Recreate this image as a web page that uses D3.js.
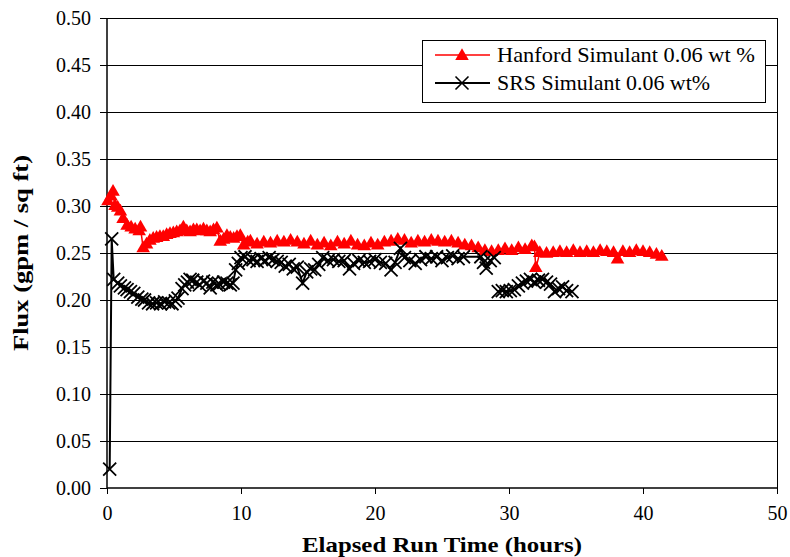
<!DOCTYPE html>
<html>
<head>
<meta charset="utf-8">
<script src="https://cdn.jsdelivr.net/npm/d3@7"></script>
<style>
  body { margin: 0; background: #fff; }
  svg text { font-family: 'Liberation Serif', 'Times New Roman', serif; fill: #000; }
</style>
</head>
<body>
<div id="chart"></div>
<script>
  'use strict';

  var seriesNames = ['Hanford Simulant 0.06 wt %', 'SRS Simulant 0.06 wt%'];

  var hanfordHours = [0.07, 0.3, 0.45, 0.6, 0.8, 1.0, 1.2, 1.5, 1.8, 2.1, 2.4, 2.5, 2.7, 2.95, 3.2, 3.45,
    3.7, 3.95, 4.2, 4.45, 4.7, 4.95, 5.2, 5.45, 5.7, 5.95, 6.2, 6.45, 6.7, 6.95, 7.2, 7.45, 7.7, 7.95,
    8.2, 8.45, 8.7, 8.95, 9.2, 9.45, 9.7, 9.95, 10.2, 10.5, 10.7, 11.2, 11.7, 12.2, 12.7, 13.2, 13.7,
    14.2, 14.7, 15.2, 15.7, 16.2, 16.7, 17.2, 17.7, 18.2, 18.7, 19.2, 19.7, 20.2, 20.7, 21.2, 21.7,
    22.2, 22.7, 23.2, 23.7, 24.2, 24.7, 25.2, 25.7, 26.2, 26.7, 27.2, 27.7, 28.2, 28.7, 29.2, 29.7,
    30.2, 30.7, 31.2, 31.7, 31.9, 32.0, 32.3, 32.8, 33.3, 33.8, 34.3, 34.8, 35.3, 35.8, 36.3, 36.8,
    37.3, 37.8, 38.1, 38.5, 39.0, 39.5, 40.0, 40.5, 41.0, 41.4];

  var hanfordFlux = [0.305, 0.310, 0.315, 0.300, 0.298, 0.294, 0.286, 0.279, 0.277, 0.275, 0.273, 0.277,
    0.255, 0.259, 0.263, 0.265, 0.266, 0.267, 0.267, 0.269, 0.270, 0.271, 0.272, 0.273, 0.277, 0.273,
    0.272, 0.274, 0.274, 0.273, 0.275, 0.273, 0.272, 0.274, 0.276, 0.262, 0.264, 0.268, 0.266, 0.265,
    0.267, 0.268, 0.258, 0.261, 0.262, 0.259, 0.261, 0.260, 0.262, 0.261, 0.263, 0.261, 0.259, 0.262,
    0.258, 0.260, 0.257, 0.261, 0.259, 0.262, 0.258, 0.257, 0.260, 0.258, 0.261, 0.262, 0.264, 0.263,
    0.260, 0.262, 0.261, 0.263, 0.262, 0.261, 0.262, 0.260, 0.258, 0.257, 0.255, 0.252, 0.251, 0.252,
    0.254, 0.252, 0.255, 0.253, 0.257, 0.256, 0.234, 0.250, 0.249, 0.250, 0.251, 0.250, 0.252, 0.250,
    0.251, 0.250, 0.252, 0.251, 0.250, 0.243, 0.251, 0.250, 0.252, 0.251, 0.250, 0.248, 0.246];

  var srsHours = [0.2, 0.35, 0.5, 0.8, 1.0, 1.3, 1.5, 1.75, 2.0, 2.3, 2.6, 2.8, 3.1, 3.4, 3.7, 4.0, 4.3,
    4.6, 4.85, 5.1, 5.3, 5.6, 5.8, 6.0, 6.2, 6.4, 6.7, 6.9, 7.2, 7.45, 7.7, 7.9, 8.2, 8.4, 8.7, 8.95,
    9.2, 9.4, 9.6, 9.8, 10.0, 10.3, 10.6, 10.9, 11.2, 11.5, 11.8, 12.1, 12.4, 12.7, 13.0, 13.3, 13.6,
    13.9, 14.2, 14.6, 14.9, 15.2, 15.5, 15.8, 16.1, 16.5, 16.9, 17.3, 17.7, 18.1, 18.4, 18.8, 19.2,
    19.6, 20.0, 20.4, 20.8, 21.2, 21.5, 21.9, 22.2, 22.6, 23.0, 23.4, 23.8, 24.2, 24.6, 25.0, 25.4,
    25.8, 26.2, 26.6, 27.9, 28.1, 28.3, 28.6, 28.9, 29.0,
    29.2, 29.5, 29.8, 30.1, 30.4, 30.7, 31.0, 31.3, 31.6, 31.9, 32.2, 32.5, 32.8, 33.1, 33.4, 33.7,
    34.0, 34.3, 34.7];

  // null marks the break in the SRS record just after 29 h
  var srsFlux = [0.020, 0.265, 0.222, 0.218, 0.215, 0.213, 0.211, 0.209, 0.207, 0.203, 0.201, 0.200,
    0.197, 0.196, 0.197, 0.196, 0.198, 0.197, 0.196, 0.199, 0.202, 0.212, 0.216, 0.219, 0.222, 0.221,
    0.219, 0.216, 0.220, 0.218, 0.213, 0.219, 0.216, 0.217, 0.219, 0.218, 0.216, 0.218, 0.232, 0.239,
    0.245, 0.246, 0.242, 0.243, 0.241, 0.244, 0.242, 0.245, 0.243, 0.241, 0.240, 0.236, 0.238, 0.233,
    0.235, 0.218, 0.230, 0.233, 0.232, 0.238, 0.245, 0.242, 0.243, 0.241, 0.242, 0.233, 0.239, 0.242,
    0.240, 0.241, 0.243, 0.240, 0.239, 0.232, 0.240, 0.255, 0.245, 0.242, 0.239, 0.243, 0.246, 0.244,
    0.246, 0.242, 0.245, 0.247, 0.244, 0.246, 0.246, 0.240, 0.234, 0.242, 0.245, null,
    0.209, 0.210, 0.209, 0.210, 0.211, 0.215, 0.218, 0.220, 0.222, 0.219, 0.221, 0.222, 0.219, 0.217,
    0.209, 0.212, 0.214, 0.210, 0.209];

  var xTicks = [0, 10, 20, 30, 40, 50];
  var yTicks = [0, 0.05, 0.1, 0.15, 0.2, 0.25, 0.3, 0.35, 0.4, 0.45, 0.5];

  var width = 790,
    height = 557,
    margin = { top: 18, right: 13, bottom: 69, left: 107 },
    innerW = width - margin.left - margin.right,
    innerH = height - margin.top - margin.bottom;

  var svg = d3.select('#chart').append('svg')
    .attr('width', width)
    .attr('height', height);

  var g = svg.append('g')
    .attr('transform', 'translate(' + margin.left + ',' + margin.top + ')');

  var x = d3.scaleLinear().domain([0, 50]).range([0, innerW]);
  var y = d3.scaleLinear().domain([0, 0.5]).range([innerH, 0]);

  function zip(hours, flux) {
    return hours.map(function (h, i) {
      return { t: h, v: flux[i] };
    });
  }

  var hanford = zip(hanfordHours, hanfordFlux),
    srs = zip(srsHours, srsFlux);

  // gridlines
  g.append('g')
    .selectAll('line')
    .data(yTicks.filter(function (d) { return d > 0; }))
    .enter().append('line')
    .attr('x1', 0)
    .attr('x2', innerW)
    .attr('y1', function (d) { return Math.round(y(d)) + 0.5; })
    .attr('y2', function (d) { return Math.round(y(d)) + 0.5; })
    .attr('stroke', '#000')
    .attr('stroke-width', 1);

  // right border
  g.append('line')
    .attr('x1', innerW + 0.5).attr('x2', innerW + 0.5)
    .attr('y1', 0).attr('y2', innerH)
    .attr('stroke', '#000');

  var yAxis = g.append('g')
    .call(d3.axisLeft(y).tickValues(yTicks).tickFormat(d3.format('.2f')).tickSize(7).tickPadding(9));
  var xAxis = g.append('g')
    .attr('transform', 'translate(0,' + innerH + ')')
    .call(d3.axisBottom(x).tickValues(xTicks).tickSize(6).tickPadding(12));

  [yAxis, xAxis].forEach(function (ax) {
    ax.attr('font-family', null);
    ax.select('.domain').attr('stroke', '#000').attr('stroke-width', 1.5);
    ax.selectAll('.tick line').attr('stroke', '#000');
    ax.selectAll('text').attr('font-size', 20);
  });
  yAxis.select('.domain').attr('d', 'M0,' + innerH + 'V0');
  xAxis.select('.domain').attr('d', 'M0,0H' + innerW);

  // axis titles
  svg.append('text')
    .attr('x', margin.left + innerW / 2)
    .attr('y', 552)
    .attr('text-anchor', 'middle')
    .attr('font-size', 22)
    .attr('font-weight', 'bold')
    .attr('textLength', 280)
    .attr('lengthAdjust', 'spacingAndGlyphs')
    .text('Elapsed Run Time (hours)');

  svg.append('text')
    .attr('transform', 'translate(28,' + (margin.top + innerH / 2) + ') rotate(-90)')
    .attr('text-anchor', 'middle')
    .attr('font-size', 21)
    .attr('font-weight', 'bold')
    .attr('textLength', 196)
    .attr('lengthAdjust', 'spacingAndGlyphs')
    .text('Flux (gpm / sq ft)');

  var line = d3.line()
    .defined(function (d) { return d.v !== null; })
    .x(function (d) { return x(d.t); })
    .y(function (d) { return y(d.v); });

  var tri = d3.symbol().type(d3.symbolTriangle).size(80);
  var cross = 'M-6.5,-6.5L6.5,6.5M-6.5,6.5L6.5,-6.5';

  // Hanford
  g.append('path')
    .datum(hanford)
    .attr('d', line)
    .attr('fill', 'none')
    .attr('stroke', '#ff0000')
    .attr('stroke-width', 1.5);

  g.append('g')
    .selectAll('path')
    .data(hanford)
    .enter().append('path')
    .attr('d', tri)
    .attr('transform', function (d) { return 'translate(' + x(d.t) + ',' + y(d.v) + ')'; })
    .attr('fill', '#ff0000');

  // SRS
  g.append('path')
    .datum(srs)
    .attr('d', line)
    .attr('fill', 'none')
    .attr('stroke', '#000')
    .attr('stroke-width', 2);

  g.append('g')
    .selectAll('path')
    .data(srs.filter(function (d) { return d.v !== null; }))
    .enter().append('path')
    .attr('d', cross)
    .attr('transform', function (d) { return 'translate(' + x(d.t) + ',' + y(d.v) + ')'; })
    .attr('fill', 'none')
    .attr('stroke', '#000')
    .attr('stroke-width', 1.8);

  // legend
  var legend = svg.append('g').attr('transform', 'translate(422,40)');
  legend.append('rect')
    .attr('x', 0.5).attr('y', 0.5)
    .attr('width', 343).attr('height', 62)
    .attr('fill', '#fff')
    .attr('stroke', '#000');

  var legendRows = [
    { name: seriesNames[0], color: '#ff0000', len: 258 },
    { name: seriesNames[1], color: '#000', len: 213 }
  ];

  legendRows.forEach(function (r, i) {
    var ry = 15 + i * 28;
    legend.append('line')
      .attr('x1', 13).attr('x2', 68)
      .attr('y1', ry).attr('y2', ry)
      .attr('stroke', r.color)
      .attr('stroke-width', i === 0 ? 1.5 : 2);
    if (i === 0) {
      legend.append('path')
        .attr('d', tri)
        .attr('transform', 'translate(40,' + (ry + 1) + ')')
        .attr('fill', r.color);
    } else {
      legend.append('path')
        .attr('d', cross)
        .attr('transform', 'translate(40,' + ry + ')')
        .attr('fill', 'none')
        .attr('stroke', '#000')
        .attr('stroke-width', 1.6);
    }
    legend.append('text')
      .attr('x', 75)
      .attr('y', ry + 7)
      .attr('font-size', 21)
      .attr('textLength', r.len)
      .attr('lengthAdjust', 'spacingAndGlyphs')
      .text(r.name);
  });
</script>
</body>
</html>
